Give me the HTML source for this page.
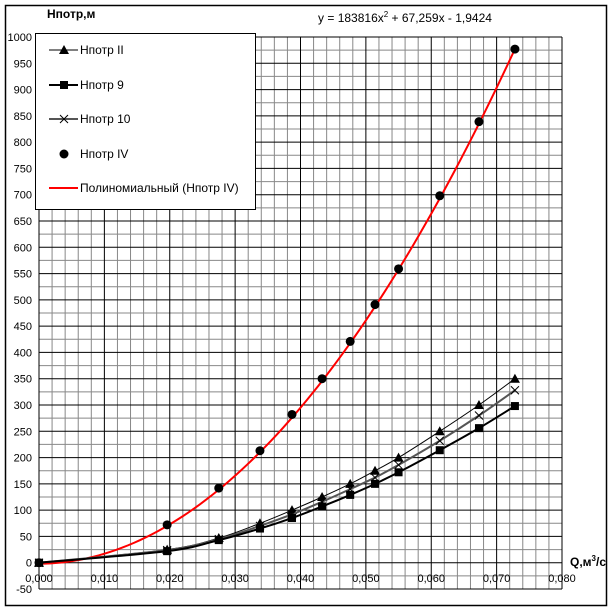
<!DOCTYPE html>
<html><head><meta charset="utf-8"><style>
body{margin:0;background:#fff}
svg text{font-family:"Liberation Sans",sans-serif;}
</style></head><body>
<svg width="613" height="611" xmlns="http://www.w3.org/2000/svg" id="chart">
<rect x="5.5" y="5.5" width="601" height="600" fill="#fff" stroke="#000" stroke-width="1.5"/>
<g id="grid"></g>
<g id="axes"></g>
<g id="series"></g>
<text x="47" y="18" font-size="12" font-weight="bold">Нпотр,м</text>
<text x="405" y="22" font-size="12" text-anchor="middle">y = 183816x<tspan dy="-5" font-size="8">2</tspan><tspan dy="5"> + 67,259x - 1,9424</tspan></text>
<text x="570" y="566" font-size="12" font-weight="bold">Q,м<tspan dy="-5" font-size="8">3</tspan><tspan dy="5">/с</tspan></text>
<g>
<rect x="35.5" y="33.5" width="220" height="176" fill="#fff" stroke="#000"/>
<g>
<line x1="49" y1="50" x2="78" y2="50" stroke="#000" stroke-width="1"/>
<polygon points="64,45 69,54 59,54" fill="#000"/>
<text x="80" y="54" font-size="12">Нпотр II</text></g>
<g>
<line x1="49" y1="85" x2="78" y2="85" stroke="#000" stroke-width="2"/>
<rect x="60" y="81" width="8" height="8" fill="#000"/>
<text x="80" y="89" font-size="12">Нпотр 9</text></g>
<g>
<line x1="49" y1="119" x2="78" y2="119" stroke="#555" stroke-width="2"/>
<path d="M60,115 L68,123 M68,115 L60,123" stroke="#000" stroke-width="1"/>
<text x="80" y="123" font-size="12">Нпотр 10</text></g>
<g>
<circle cx="64" cy="154" r="4.5" fill="#000"/>
<text x="80" y="158" font-size="12">Нпотр IV</text></g>
<g>
<line x1="49" y1="188" x2="78" y2="188" stroke="#f00" stroke-width="2"/>
<text x="80" y="192" font-size="12">Полиномиальный (Нпотр IV)</text></g>
</g>
</svg>
<script>
const qValues=[0,0.0196,0.0275,0.0338,0.0387,0.0433,0.0476,0.0514,0.0550,0.0613,0.0673,0.0728];
const hII=[0,25,47,75,100,125,150,175,200,250,300,350];
const h9=[0,22,43,65,85,107,129,150,172,214,256,298];
const h10=[0,24,45,70,92,116,140,162,186,232,280,328];
const hIV=[0,72,142,213,282,350,421,491,559,698,839,977];
const trendCoef=[183816,67.259,-1.9424];
const xTicks=["0,000","0,010","0,020","0,030","0,040","0,050","0,060","0,070","0,080"];
const yTickVals=[-50,0,50,100,150,200,250,300,350,400,450,500,550,600,650,700,750,800,850,900,950,1000];

const X0=39,X1=562,Y0=589,Y1=37,xmin=0,xmax=0.08,ymin=-50,ymax=1000;
const sx=v=>X0+(v-xmin)/(xmax-xmin)*(X1-X0);
const sy=v=>Y0-(v-ymin)/(ymax-ymin)*(Y0-Y1);
const NS="http://www.w3.org/2000/svg";
function mk(t,a,p){const e=document.createElementNS(NS,t);for(const k in a)e.setAttribute(k,a[k]);p.appendChild(e);return e;}
const grid=document.getElementById('grid'),axes=document.getElementById('axes'),ser=document.getElementById('series');
// minor grid
for(let i=0;i<=40;i++){const x=sx(i*0.002);if(i%5){const l=mk('line',{x1:x,x2:x,y1:Y1,y2:Y0,stroke:'#888','stroke-width':1},grid);

}}
for(let v=-50;v<=1000;v+=25){if(v%50){const y=sy(v);const l=mk('line',{x1:X0,x2:X1,y1:y,y2:y,stroke:'#888','stroke-width':1},grid);

}}
xTicks.forEach((t,i)=>{const x=sx(i*0.01);const l=mk('line',{x1:x,x2:x,y1:Y1,y2:Y0,stroke:'#000','stroke-width':1},grid);


const tx=mk('text',{x:x,y:582,'font-size':11,'text-anchor':'middle'},axes);tx.textContent=t;

});
yTickVals.forEach(v=>{const y=sy(v);const l=mk('line',{x1:X0,x2:X1,y1:y,y2:y,stroke:'#000','stroke-width':1},grid);


const tx=mk('text',{x:32,y:y+4,'font-size':11,'text-anchor':'end'},axes);tx.textContent=v;

});
function smooth(xs,ys){const p=xs.map((x,i)=>[sx(x),sy(ys[i])]);let d='M'+p[0][0]+','+p[0][1];
for(let i=0;i<p.length-1;i++){const a=p[i-1]||p[i],b=p[i],c=p[i+1],e=p[i+2]||c;
d+=` C${b[0]+(c[0]-a[0])/6},${b[1]+(c[1]-a[1])/6} ${c[0]-(e[0]-b[0])/6},${c[1]-(e[1]-b[1])/6} ${c[0]},${c[1]}`;}return d;}
// trendline
let td='';for(let i=0;i<=80;i++){const q=i/80*qValues[qValues.length-1];const h=trendCoef[0]*q*q+trendCoef[1]*q+trendCoef[2];td+=(i?'L':'M')+sx(q)+','+sy(h);}
const tl=mk('path',{d:td,fill:'none',stroke:'#f00','stroke-width':2},ser);


const defs=[[hII,'#000',1,'tri','series-ii'],[h10,'#555',2,'x','series-10'],[h9,'#000',2,'sq','series-9']];
defs.forEach(([ys,c,w,m,n])=>{const p=mk('path',{d:smooth(qValues,ys),fill:'none',stroke:c,'stroke-width':w},ser);


qValues.forEach((q,i)=>{const x=sx(q),y=sy(ys[i]);let e;
if(m==='tri')e=mk('polygon',{points:`${x},${y-5} ${x+5},${y+4} ${x-5},${y+4}`,fill:'#000'},ser);
else if(m==='sq')e=mk('rect',{x:x-4,y:y-4,width:8,height:8,fill:'#000'},ser);
else e=mk('path',{d:`M${x-4},${y-4}L${x+4},${y+4}M${x+4},${y-4}L${x-4},${y+4}`,stroke:'#000','stroke-width':1},ser);

});});
qValues.forEach((q,i)=>{const e=mk('circle',{cx:sx(q),cy:sy(hIV[i]),r:4.5,fill:'#000'},ser);

});
</script>
</body></html>
